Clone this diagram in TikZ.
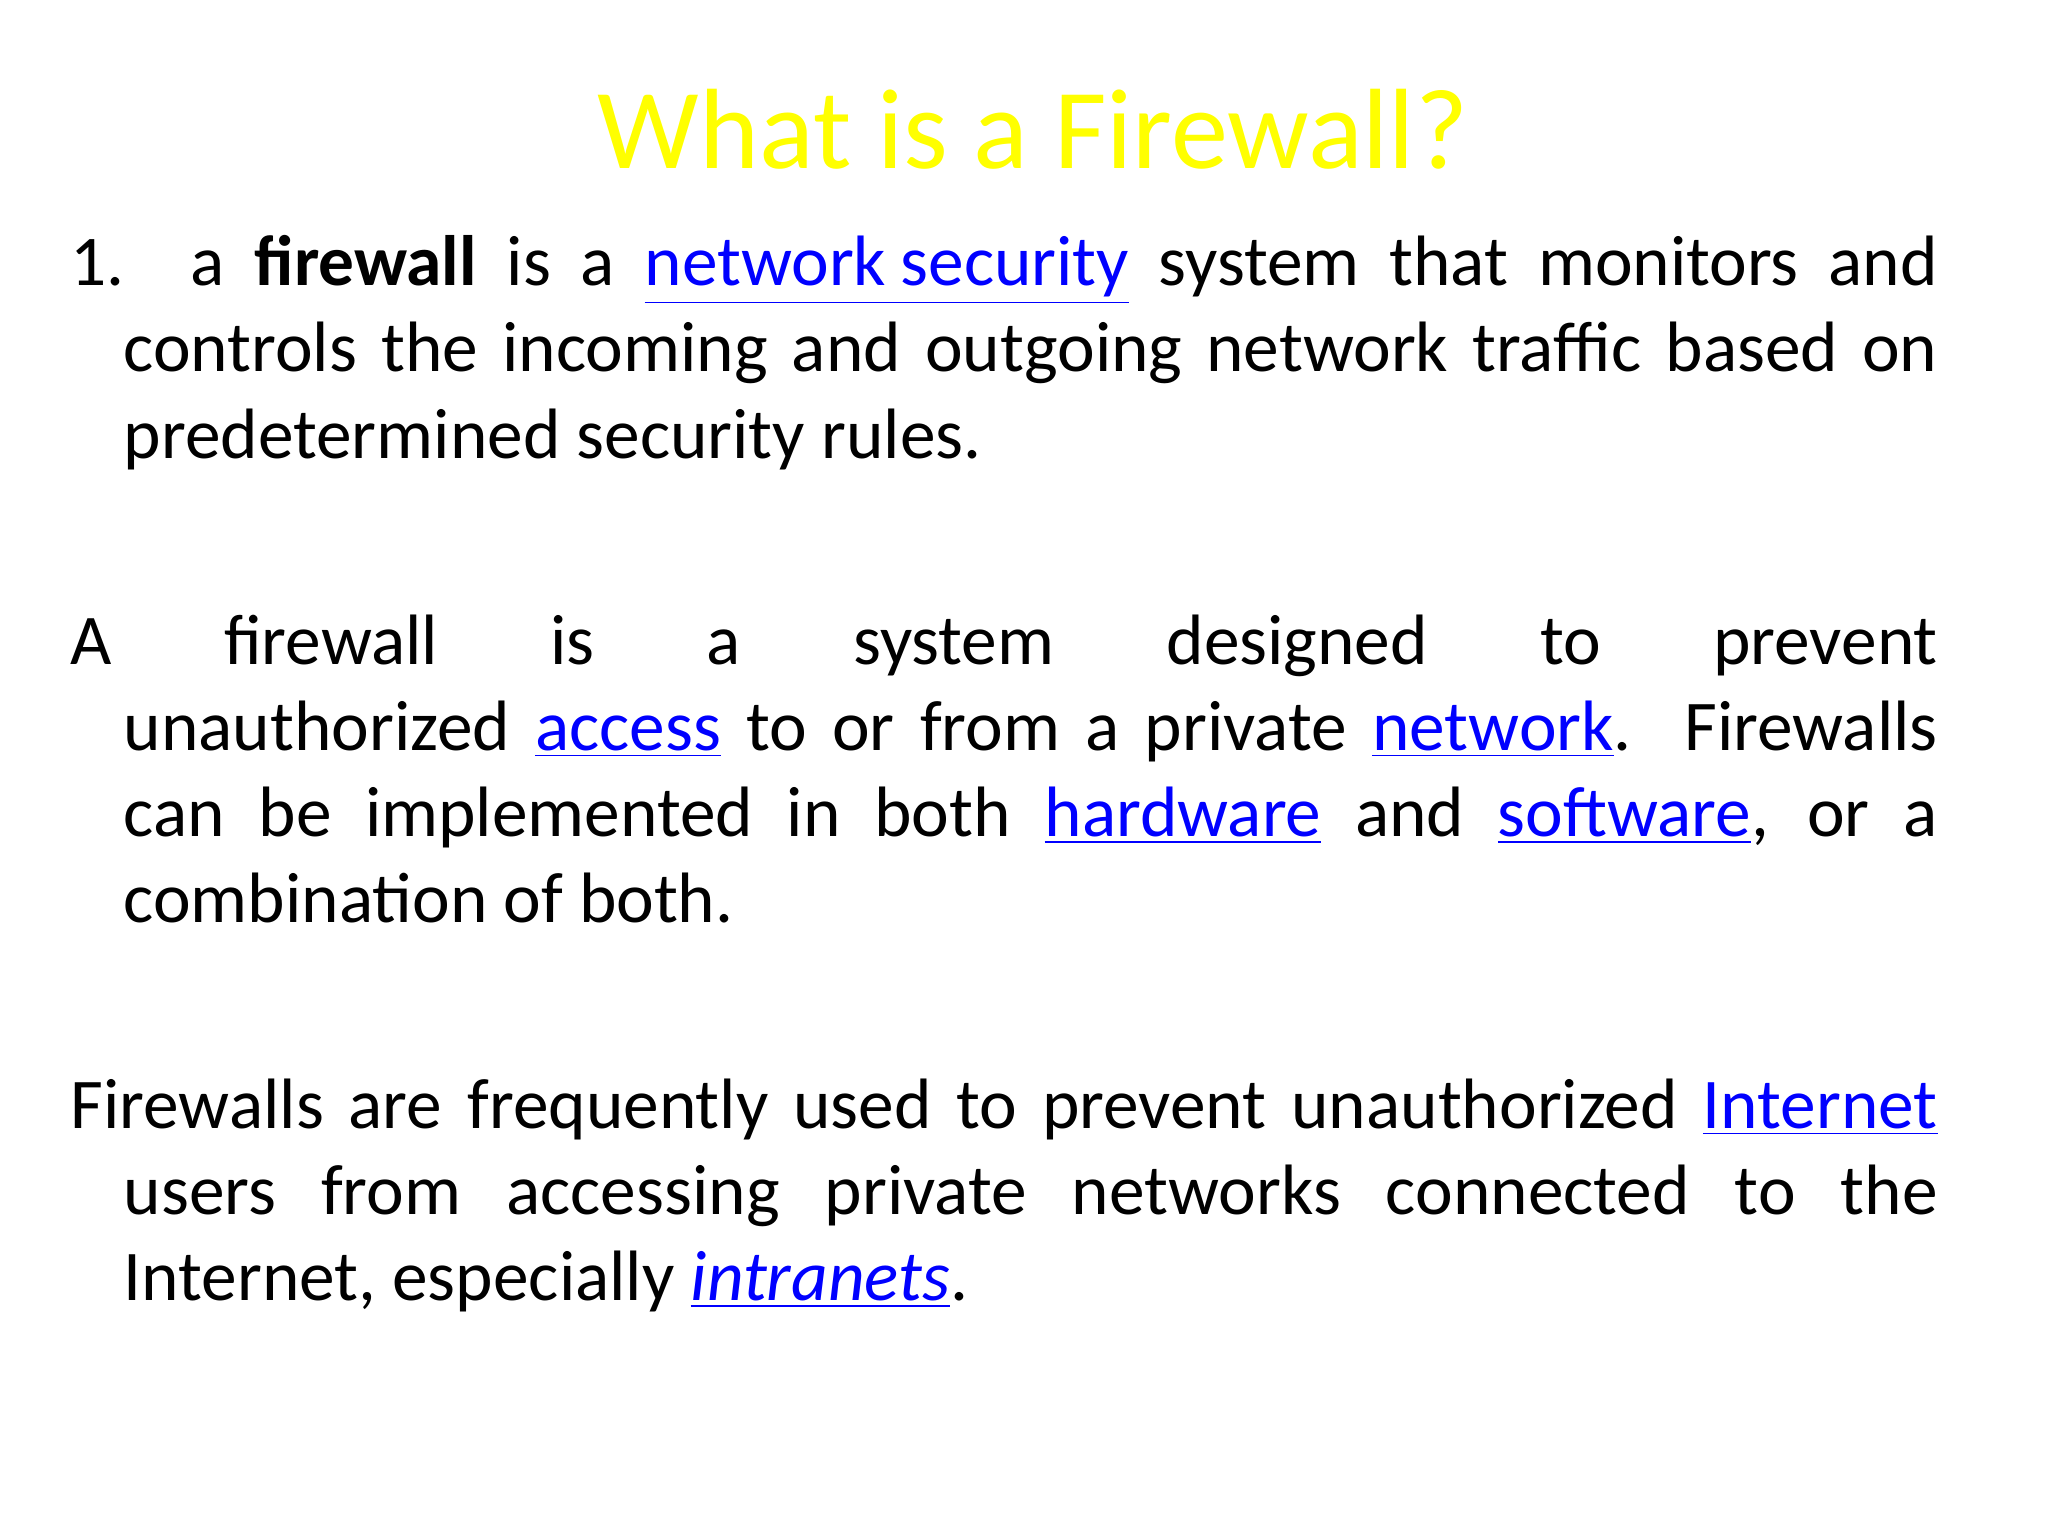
\documentclass[tikz,border=0pt]{standalone}
\usepackage{fontspec}
\setmainfont{Carlito}
\definecolor{ttl}{RGB}{255,255,0}
\definecolor{lnk}{RGB}{0,0,255}
\newcommand{\lk}[1]{\textcolor{lnk}{\underline{#1}}}
\newcommand{\jf}[1]{\hbox to 18.67cm{\spaceskip=.2em plus 1fil\relax #1}}
\newcommand{\ji}[1]{\hbox to 18.67cm{\hskip 0.53cm\spaceskip=.2em plus 1fil\relax #1}}
\newcommand{\jn}[1]{\hbox to 18.67cm{\hskip 0.53cm #1\hfil}}
\tikzset{para/.style={anchor=north west,inner sep=0pt,align=left,font=\fontsize{20.3}{24.5}\selectfont}}
\begin{document}
\begin{tikzpicture}[x=1cm,y=-1cm]
\useasboundingbox (0,0) rectangle (20.48,15.36);
\node[anchor=base,inner sep=0pt,text=ttl,font=\fontsize{32.5}{36}\selectfont] (t) at (10.33,1.69) {What is a Firewall?};
\node[para] (p1) at (0.70,2.35) {\jf{1. a \textbf{firewall} is a \lk{network security} system that monitors and}\\
\ji{controls the incoming and outgoing network traffic based on}\\
\jn{predetermined security rules.}};
\node[para] (p2) at (0.70,6.14) {\jf{A firewall is a system designed to prevent}\\
\ji{unauthorized \lk{access} to or from a private \lk{network}. Firewalls}\\
\ji{can be implemented in both \lk{hardware} and \lk{software}, or a}\\
\jn{combination of both.}};
\node[para] (p3) at (0.70,10.78) {\jf{Firewalls are frequently used to prevent unauthorized \lk{Internet}}\\
\ji{users from accessing private networks connected to the}\\
\jn{Internet, especially \lk{\textit{intranets}}.}};
\end{tikzpicture}
\end{document}
